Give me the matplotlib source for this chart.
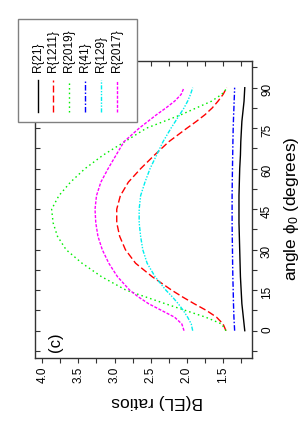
import matplotlib
matplotlib.use('Agg')
import matplotlib.pyplot as plt
from matplotlib.ticker import MultipleLocator, FormatStrFormatter
from matplotlib.lines import Line2D
from matplotlib.patches import Rectangle

plt.rcParams['font.family'] = ['Liberation Sans', 'DejaVu Sans']
plt.rcParams['mathtext.fontset'] = 'custom'
plt.rcParams['mathtext.rm'] = 'Liberation Sans'
plt.rcParams['mathtext.it'] = 'Liberation Sans:italic'
plt.rcParams['mathtext.bf'] = 'Liberation Sans:bold'
plt.rcParams['mathtext.fallback'] = 'stixsans'

# ---------------- data ----------------
angles = [0, 2.5, 5, 7.5, 10, 12.5, 15, 20, 25, 30, 35, 40, 45, 50, 55, 60,
          65, 70, 75, 77.5, 80, 82.5, 85, 87.5, 90]
r21 = [1.20, 1.21, 1.22, 1.23, 1.24, 1.245, 1.25, 1.26, 1.265, 1.27, 1.275, 1.28,
       1.28, 1.28, 1.275, 1.27, 1.26, 1.255, 1.245, 1.24, 1.23, 1.22, 1.21, 1.205, 1.20]
r1211 = [1.46, 1.50, 1.59, 1.73, 1.90, 2.06, 2.21, 2.48, 2.71, 2.85, 2.93, 2.97,
         2.97, 2.92, 2.81, 2.64, 2.45, 2.25, 2.00, 1.87, 1.75, 1.65, 1.57, 1.50, 1.45]
r2019 = [1.46, 1.52, 1.74, 2.02, 2.30, 2.57, 2.84, 3.18, 3.45, 3.67, 3.79, 3.85,
         3.87, 3.77, 3.61, 3.41, 3.16, 2.86, 2.56, 2.32, 2.08, 1.87, 1.66, 1.52, 1.44]
r41 = [1.34, 1.345, 1.35, 1.353, 1.356, 1.358, 1.36, 1.365, 1.368, 1.37, 1.373, 1.375,
       1.375, 1.375, 1.373, 1.37, 1.367, 1.364, 1.36, 1.357, 1.354, 1.35, 1.347, 1.343, 1.34]
r129 = [1.92, 1.94, 1.99, 2.05, 2.12, 2.20, 2.29, 2.44, 2.55, 2.61, 2.64, 2.66,
        2.66, 2.64, 2.58, 2.51, 2.42, 2.33, 2.22, 2.16, 2.10, 2.04, 1.99, 1.95, 1.92]
r2017 = [2.04, 2.07, 2.17, 2.35, 2.53, 2.67, 2.79, 2.96, 3.08, 3.17, 3.23, 3.26,
         3.27, 3.25, 3.19, 3.09, 2.98, 2.87, 2.66, 2.54, 2.42, 2.29, 2.17, 2.08, 2.04]

series = [r21, r1211, r2019, r41, r129, r2017]
labels = ['R{21}', 'R{1211}', 'R{2019}', 'R{41}', 'R{129}', 'R{2017}']
colors = ['black', '#ff0000', '#00ee00', '#0000ff', '#00eeee', '#ff00ff']
styles = ['-', (0, (5, 2.2)), (0, (1.1, 2.2)), (0, (4, 1.4, 1.1, 1.4)),
          (0, (3, 1.1, 1, 1.1, 1, 1.1)), (0, (2.2, 1.1))]

# ---------------- layout ----------------
W, H = 303, 436
fig = plt.figure(figsize=(W / 100, H / 100), dpi=100)
fig.patch.set_facecolor('white')


def fx(px):
    return px / W


def fy(py):
    return 1 - py / H


rect = [fx(35), fy(357.7), fx(252) - fx(35), fy(60.7) - fy(357.7)]
ax = fig.add_axes(rect)

for vals, lab, c, ls in zip(series, labels, colors, styles):
    ax.plot(vals, angles, color=c, linestyle=ls, lw=1.0, label=lab)

ax.set_xlim(4.1, 1.1)
ax.set_ylim(-10, 100)

ax.xaxis.set_major_locator(MultipleLocator(0.5))
ax.xaxis.set_minor_locator(MultipleLocator(0.25))
ax.xaxis.set_major_formatter(FormatStrFormatter('%.1f'))
ax.yaxis.set_major_locator(MultipleLocator(15))
ax.yaxis.set_minor_locator(MultipleLocator(7.5))
ax.yaxis.tick_right()
ax.xaxis.tick_bottom()
ax.tick_params(which='both', direction='out', length=3.5, width=0.8,
               color='#333333', labelsize=8.5)
ax.tick_params(axis='x', labelrotation=90, pad=3)
ax.tick_params(axis='y', labelrotation=90, pad=3)
for s in ax.spines.values():
    s.set_color('#333333')
    s.set_linewidth(1.0)

# inward ticks on the opposite sides
ax2 = fig.add_axes(rect, sharex=ax, sharey=ax, facecolor='none')
ax2.xaxis.tick_top()
ax2.yaxis.tick_left()
ax2.tick_params(which='both', direction='in', length=3.5, width=0.8,
                color='#333333', labeltop=False, labelleft=False,
                labelbottom=False, labelright=False)
for s in ax2.spines.values():
    s.set_visible(False)

ax.set_xlabel('B(EL) ratios', fontsize=12.5, rotation=180, ha='center', va='center')
ax.xaxis.set_label_coords((157.5 - 35) / 217, -(401.7 - 357.7) / 297)
ax.set_ylabel('angle ϕ$_0$ (degrees)', fontsize=12.5, rotation=90, ha='center', va='center')
ax.yaxis.set_label_position('right')
ax.yaxis.set_label_coords((282 - 35) / 217, 0.5)

ax.text(fx(55), fy(341.7), '(c)', transform=fig.transFigure, rotation=90,
        ha='center', va='center', fontsize=12)

# ---------------- rotated legend ----------------
fig.add_artist(Rectangle((fx(18.3), fy(122.3)), fx(137.3) - fx(18.3),
                         fy(19.3) - fy(122.3), transform=fig.transFigure,
                         facecolor='white', edgecolor='#808080', lw=1.0, zorder=5))
leg_x = [37.7, 53.3, 69.3, 85.0, 100.7, 116.7]
for x, lab, c, ls in zip(leg_x, labels, colors, styles):
    fig.add_artist(Line2D([fx(x), fx(x)], [fy(111.7), fy(80)],
                          transform=fig.transFigure, color=c, linestyle=ls,
                          lw=1.0, zorder=6))
    fig.text(fx(x), fy(72), lab, rotation=90, rotation_mode='anchor',
             ha='left', va='center', fontsize=8.5, zorder=7)

fig.savefig('out.png', dpi=100, facecolor='white')
